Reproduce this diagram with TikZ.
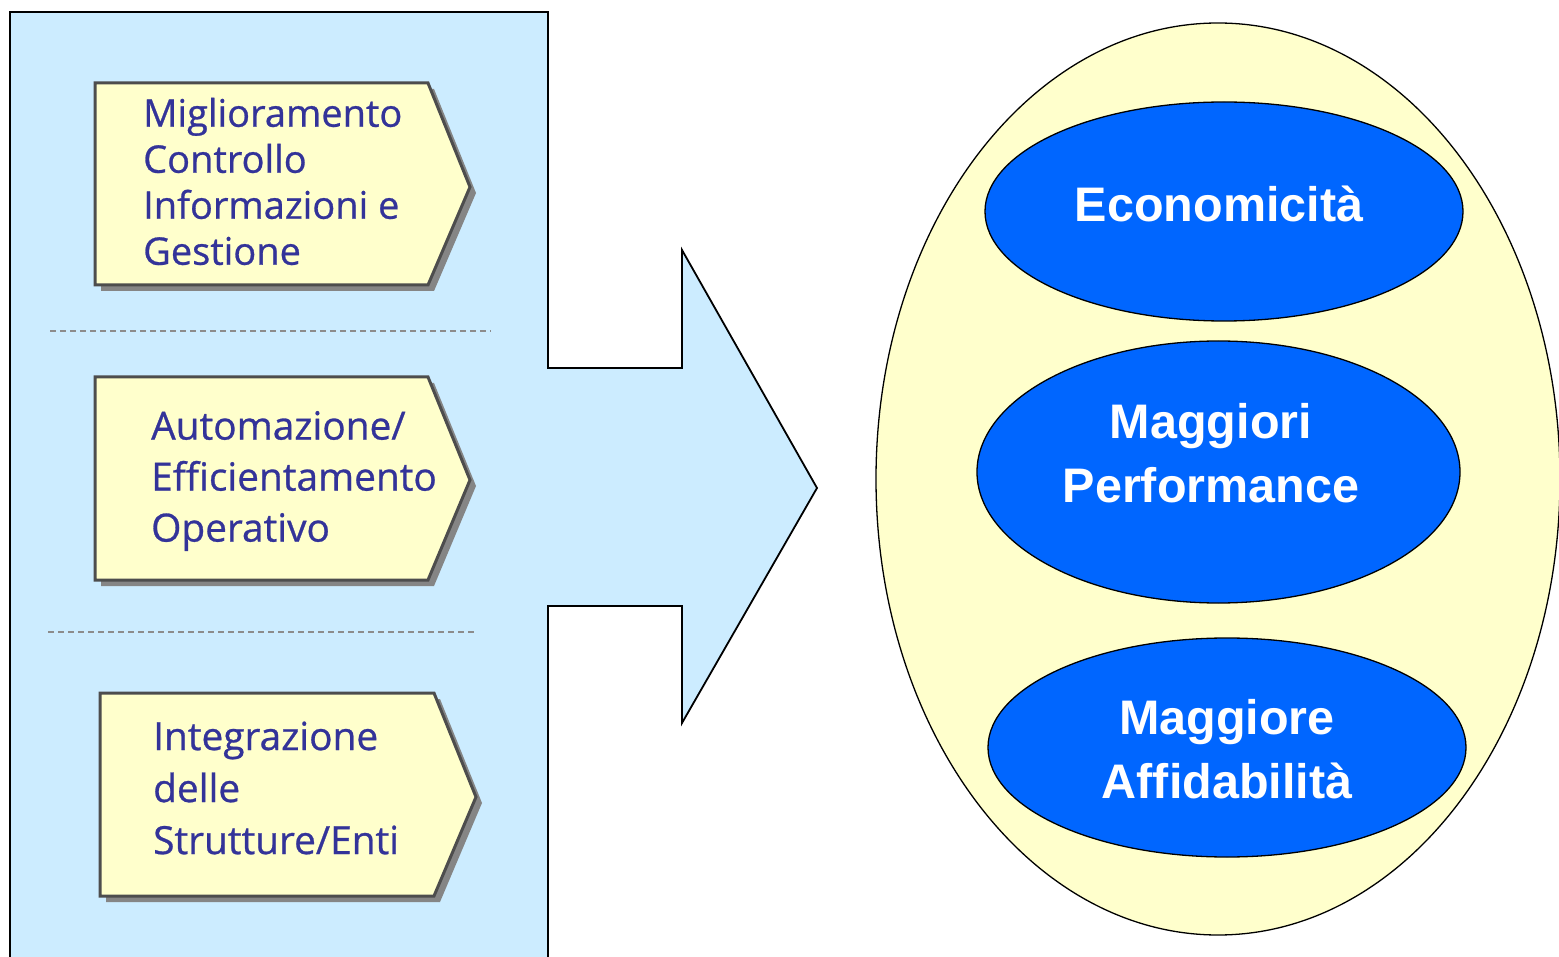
\documentclass[tikz,border=0pt]{standalone}
\usepackage{fontspec}
\usetikzlibrary{shapes.geometric}
\setmainfont{Open Sans}
\newfontfamily\leftfont[FakeBold=0.7]{Open Sans}
\newfontfamily\boldsans{Liberation Sans}
\definecolor{panelblue}{HTML}{CCECFF}
\definecolor{paleyellow}{HTML}{FFFFCC}
\definecolor{deepblue}{HTML}{0066FF}
\definecolor{navytext}{HTML}{333399}
\definecolor{boxedge}{HTML}{4D4D4D}
\definecolor{shadowgray}{HTML}{858585}
\definecolor{dashgray}{HTML}{8C8C8C}
\tikzset{
  chevron/.style={fill=paleyellow,draw=boxedge,line width=3pt,line join=miter},
  chevshadow/.style={fill=shadowgray},
  lefttext/.style={anchor=west,inner sep=0pt,align=left,text=navytext,font=\leftfont\fontsize{38}{46}\selectfont},
  bluebubble/.style={fill=deepblue,draw=black,line width=1.3pt},
  bubbletext/.style={inner sep=0pt,align=center,text=white,font=\boldsans\bfseries\fontsize{48.5}{64}\selectfont},
  sepline/.style={draw=dashgray,dashed,line width=1.2pt,dash pattern=on 6pt off 4pt}
}
\begin{document}
\begin{tikzpicture}[x=1pt,y=-1pt]
\useasboundingbox (0,0) rectangle (1559,957);
% panel with arrow
\path[fill=panelblue,draw=black,line width=1.8pt]
  (10,12) -- (548,12) -- (548,368) -- (682,368) -- (682,250) -- (817,488)
  -- (682,723) -- (682,606) -- (548,606) -- (548,970) -- (10,970) -- cycle;
% separators
\draw[sepline] (50,331) -- (491,331);
\draw[sepline] (48,632) -- (476,632);
% chevron 1
\fill[chevshadow] (101,89) -- (434,89) -- (476,193) -- (434,291) -- (101,291) -- cycle;
\draw[chevron] (95,83) -- (428,83) -- (470,187) -- (428,285) -- (95,285) -- cycle;
\node[lefttext] (t1) at (143,181.5) {Miglioramento\\Controllo\\Informazioni e\\Gestione};
% chevron 2
\fill[chevshadow] (101,383) -- (434,383) -- (476,486) -- (434,586) -- (101,586) -- cycle;
\draw[chevron] (95,377) -- (428,377) -- (470,480) -- (428,580) -- (95,580) -- cycle;
\node[lefttext,font=\leftfont\fontsize{38.8}{51}\selectfont] (t2) at (151,481) {Automazione/\\Efficientamento\\Operativo};
% chevron 3
\fill[chevshadow] (106,699) -- (440,699) -- (482,803) -- (440,902) -- (106,902) -- cycle;
\draw[chevron] (100,693) -- (434,693) -- (476,797) -- (434,896) -- (100,896) -- cycle;
\node[lefttext,font=\leftfont\fontsize{38.8}{52}\selectfont] (t3) at (153,788) {Integrazione\\delle\\Strutture/Enti};
% big ellipse
\node[ellipse,fill=paleyellow,draw=black,line width=1.3pt,minimum width=684pt,minimum height=912pt,inner sep=0pt] (outer) at (1218,479) {};
% blue ellipses
\node[bluebubble,ellipse,minimum width=478pt,minimum height=219pt,inner sep=0pt] (e1) at (1224,211.5) {};
\node[bluebubble,ellipse,minimum width=483pt,minimum height=262pt,inner sep=0pt] (e2) at (1218.5,472) {};
\node[bluebubble,ellipse,minimum width=478pt,minimum height=219pt,inner sep=0pt] (e3) at (1227,747.5) {};
\node[bubbletext] (b1) at (1219,204) {Economicità};
\node[bubbletext] (b2) at (1211,453.5) {Maggiori\\Performance};
\node[bubbletext] (b3) at (1227,749) {Maggiore\\Affidabilità};
\end{tikzpicture}
\end{document}
